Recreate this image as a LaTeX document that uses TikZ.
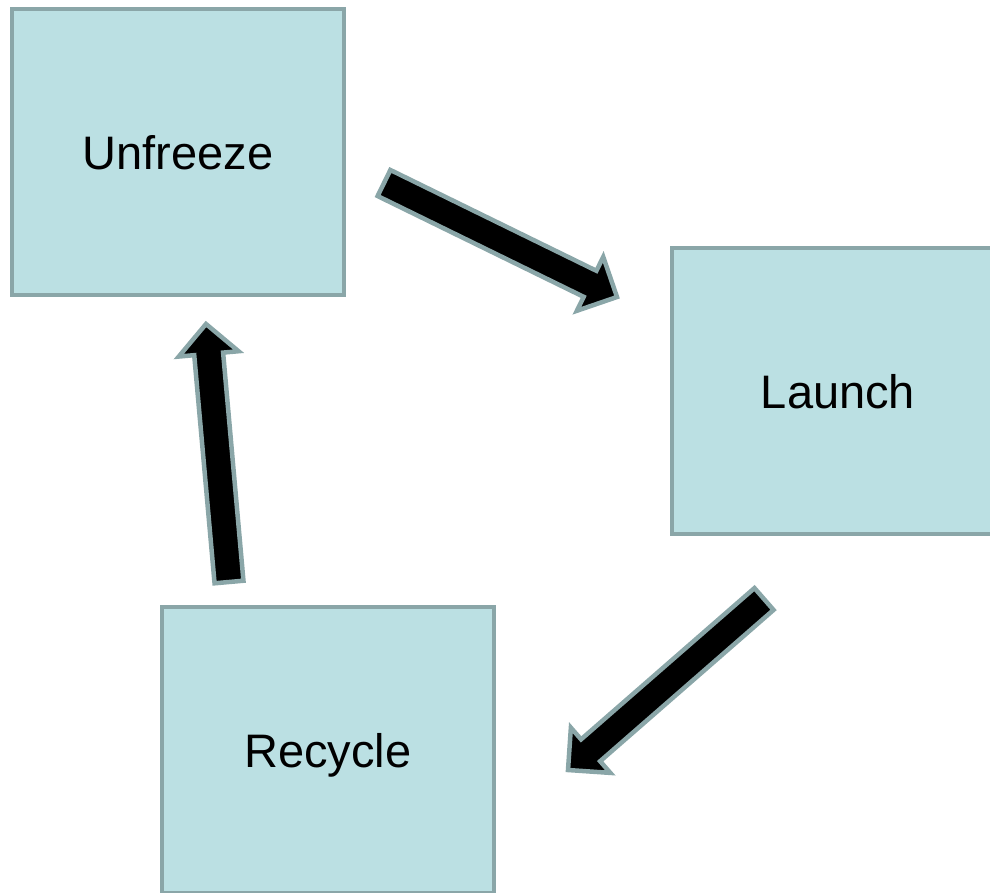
\documentclass[tikz,border=0pt]{standalone}
\usepackage{fontspec}
\setmainfont{Liberation Sans}
\usetikzlibrary{calc}
\definecolor{boxfill}{HTML}{BBE0E3}
\definecolor{boxline}{HTML}{8AA6A8}
\tikzset{
  stage/.style={draw=boxline, fill=boxfill, line width=4.5pt, minimum width=332pt, minimum height=286pt, inner sep=0pt, text depth=0pt, font=\fontsize{47}{56}\selectfont},
  blockarrow/.style={draw=boxline, fill=black, line width=4.5pt, line join=miter}
}
\newcommand\blockarr[2]{%
  \coordinate (ba-n) at ($(#2)!30pt!(#1)$);
  \draw[blockarrow] ($(#1)!14.5pt!90:(#2)$) -- ($(ba-n)!14.5pt!90:(#2)$) -- ($(ba-n)!30pt!90:(#2)$) -- (#2) -- ($(ba-n)!30pt!-90:(#2)$) -- ($(ba-n)!14.5pt!-90:(#2)$) -- ($(#1)!14.5pt!-90:(#2)$) -- cycle;}
\begin{document}
\begin{tikzpicture}[x=1pt,y=-1pt]
\useasboundingbox (0,0) rectangle (990,892);
\begin{scope}
\clip (0,0) rectangle (990,892);
\node[stage] (unfreeze) at (178,152) {Unfreeze};
\node[stage] (launch) at (838,391) {Launch};
\node[stage] (recycle) at (328,750) {Recycle};
\end{scope}
\coordinate (t1) at (384,183); \coordinate (h1) at (617,297);
\coordinate (t2) at (764,599); \coordinate (h2) at (568,770);
\coordinate (t3) at (229,582); \coordinate (h3) at (206,324);
\blockarr{t1}{h1}
\blockarr{t2}{h2}
\blockarr{t3}{h3}
\end{tikzpicture}
\end{document}
